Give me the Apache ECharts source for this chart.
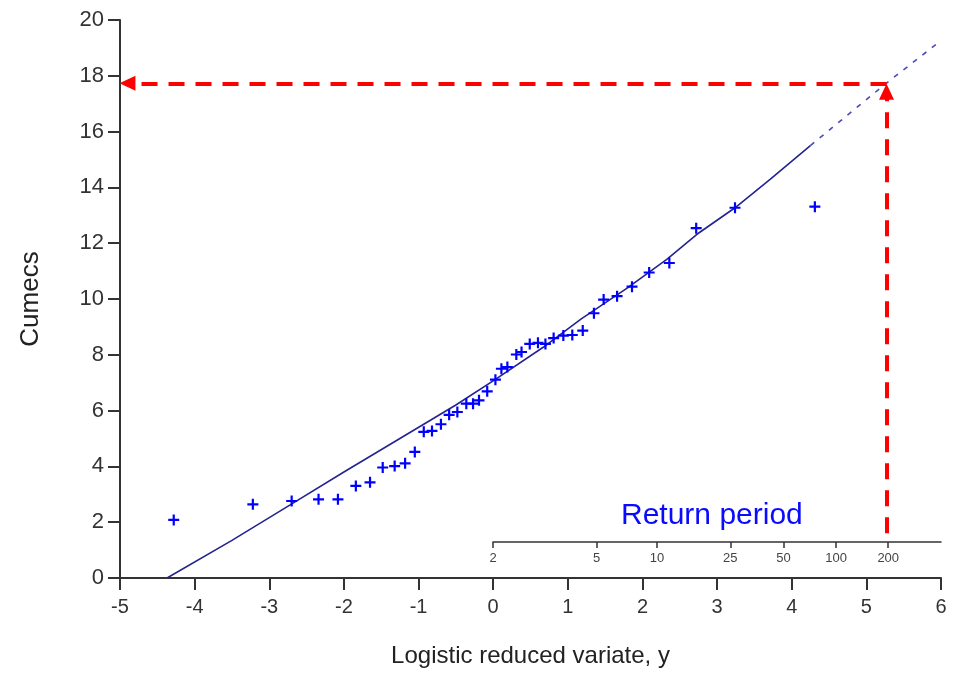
<!DOCTYPE html>
<html>
<head>
<meta charset="utf-8">
<script src="https://cdn.jsdelivr.net/npm/echarts@6/dist/echarts.min.js"></script>
<style>
  html, body { margin: 0; padding: 0; background: #fff; }
  #chart { width: 953px; height: 673px; }
</style>
</head>
<body>
<div id="chart"></div>
<script>
// observed annual maxima, plotted against logistic reduced variate
var reducedVariate = [-4.28, -3.22, -2.70, -2.34, -2.08, -1.84, -1.65, -1.48, -1.32, -1.18,
    -1.05, -0.93, -0.82, -0.70, -0.59, -0.48, -0.36, -0.27, -0.19, -0.08,
    0.03, 0.11, 0.19, 0.31, 0.38, 0.49, 0.60, 0.70, 0.81, 0.94,
    1.06, 1.20, 1.35, 1.48, 1.66, 1.86, 2.09, 2.36, 2.72, 3.24, 4.31];
var flows = [2.08, 2.64, 2.76, 2.82, 2.82, 3.30, 3.43, 3.96, 4.01, 4.11,
    4.52, 5.24, 5.27, 5.51, 5.85, 5.95, 6.25, 6.25, 6.37, 6.69,
    7.11, 7.50, 7.56, 8.01, 8.10, 8.39, 8.43, 8.39, 8.60, 8.69,
    8.71, 8.87, 9.49, 9.98, 10.10, 10.44, 10.95, 11.29, 12.54, 13.27, 13.31];

// fitted curve (solid over the data range, dashed extrapolation)
var fitX = [-4.37, -3.5, -2.72, -2.0, -1.25, -0.5, 0.02, 0.67, 1.18, 1.8, 2.33, 2.73, 3.24, 3.71, 4.25];
var fitY = [0, 1.35, 2.62, 3.80, 5.0, 6.2, 7.1, 8.27, 9.29, 10.4, 11.43, 12.32, 13.27, 14.29, 15.5];
var extX = [4.25, 5.27, 5.97];
var extY = [15.5, 17.74, 19.2];

// return period scale (T years), y = ln(T - 1)
var returnPeriods = [2, 5, 10, 25, 50, 100, 200];

// design value
var designVariate = 5.27;
var designFlow = 17.73;

var font = 'Liberation Sans, Arial, sans-serif';

function pairs(xs, ys) {
    var out = [];
    for (var i = 0; i < xs.length; i++) out.push([xs[i], ys[i]]);
    return out;
}

var chart = echarts.init(document.getElementById('chart'));
var option = {
    animation: false,
    backgroundColor: '#fff',
    grid: [
        { left: 120, right: 12, top: 20, bottom: 93 },
        { left: 493, right: 12, top: 541, height: 1 }
    ],
    xAxis: [{
        gridIndex: 0,
        type: 'value',
        min: -5, max: 6, interval: 1,
        name: 'Logistic reduced variate, y',
        nameLocation: 'middle',
        nameGap: 66,
        nameTextStyle: { fontFamily: font, fontSize: 24, color: '#222' },
        axisLine: { onZero: false, lineStyle: { color: '#333', width: 2 } },
        axisTick: { length: 12, lineStyle: { color: '#333', width: 2 } },
        axisLabel: { fontFamily: font, fontSize: 20, color: '#333', margin: 19 },
        splitLine: { show: false }
    }, {
        gridIndex: 1,
        type: 'value',
        min: 0, max: 6,
        position: 'bottom',
        axisLine: { onZero: false, lineStyle: { color: '#333', width: 1.5 } },
        axisTick: {
            length: 6,
            lineStyle: { color: '#333', width: 1.5 },
            customValues: returnPeriods.map(function (t) { return Math.log(t - 1); })
        },
        axisLabel: {
            fontFamily: font, fontSize: 13, color: '#444', margin: 10,
            customValues: returnPeriods.map(function (t) { return Math.log(t - 1); }),
            formatter: function (v) { return String(Math.round(Math.exp(v) + 1)); }
        },
        splitLine: { show: false }
    }],
    yAxis: [{
        gridIndex: 0,
        type: 'value',
        min: 0, max: 20, interval: 2,
        name: 'Cumecs',
        nameLocation: 'middle',
        nameGap: 76,
        nameTextStyle: { fontFamily: font, fontSize: 26, color: '#222' },
        axisLine: { onZero: false, lineStyle: { color: '#333', width: 2 } },
        axisTick: { length: 12, lineStyle: { color: '#333', width: 2 } },
        axisLabel: { fontFamily: font, fontSize: 22, color: '#333', margin: 16 },
        splitLine: { show: false }
    }, {
        gridIndex: 1,
        type: 'value',
        show: false
    }],
    graphic: [{
        type: 'text',
        left: 621,
        top: 501,
        style: { text: 'Return period', fontFamily: font, fontSize: 30, fill: '#0a0aff' }
    }],
    series: [{
        type: 'line',
        xAxisIndex: 0, yAxisIndex: 0,
        data: pairs(fitX, fitY),
        showSymbol: false,
        lineStyle: { color: '#24248f', width: 1.6 },
        silent: true
    }, {
        type: 'line',
        xAxisIndex: 0, yAxisIndex: 0,
        data: pairs(extX, extY),
        showSymbol: false,
        lineStyle: { color: '#4a4ab8', width: 1.6, type: [5, 7] },
        silent: true,
        markLine: {
            silent: true,
            symbol: ['none', 'triangle'],
            symbolSize: [15, 16],
            label: { show: false },
            lineStyle: { color: '#ff0000', width: 4, type: [16, 11] },
            data: [
                [{ coord: [designVariate, 1.6] }, { coord: [designVariate, designFlow - 0.3] }],
                [{ coord: [designVariate, designFlow] }, { coord: [-4.9, designFlow] }]
            ]
        }
    }, {
        type: 'scatter',
        xAxisIndex: 0, yAxisIndex: 0,
        data: pairs(reducedVariate, flows),
        symbol: 'path://M4,0 H6 V4 H10 V6 H6 V10 H4 V6 H0 V4 H4 Z',
        symbolSize: 11,
        itemStyle: { color: '#0000ff', opacity: 1 },
        z: 5
    }]
};
chart.setOption(option);
</script>
</body>
</html>
